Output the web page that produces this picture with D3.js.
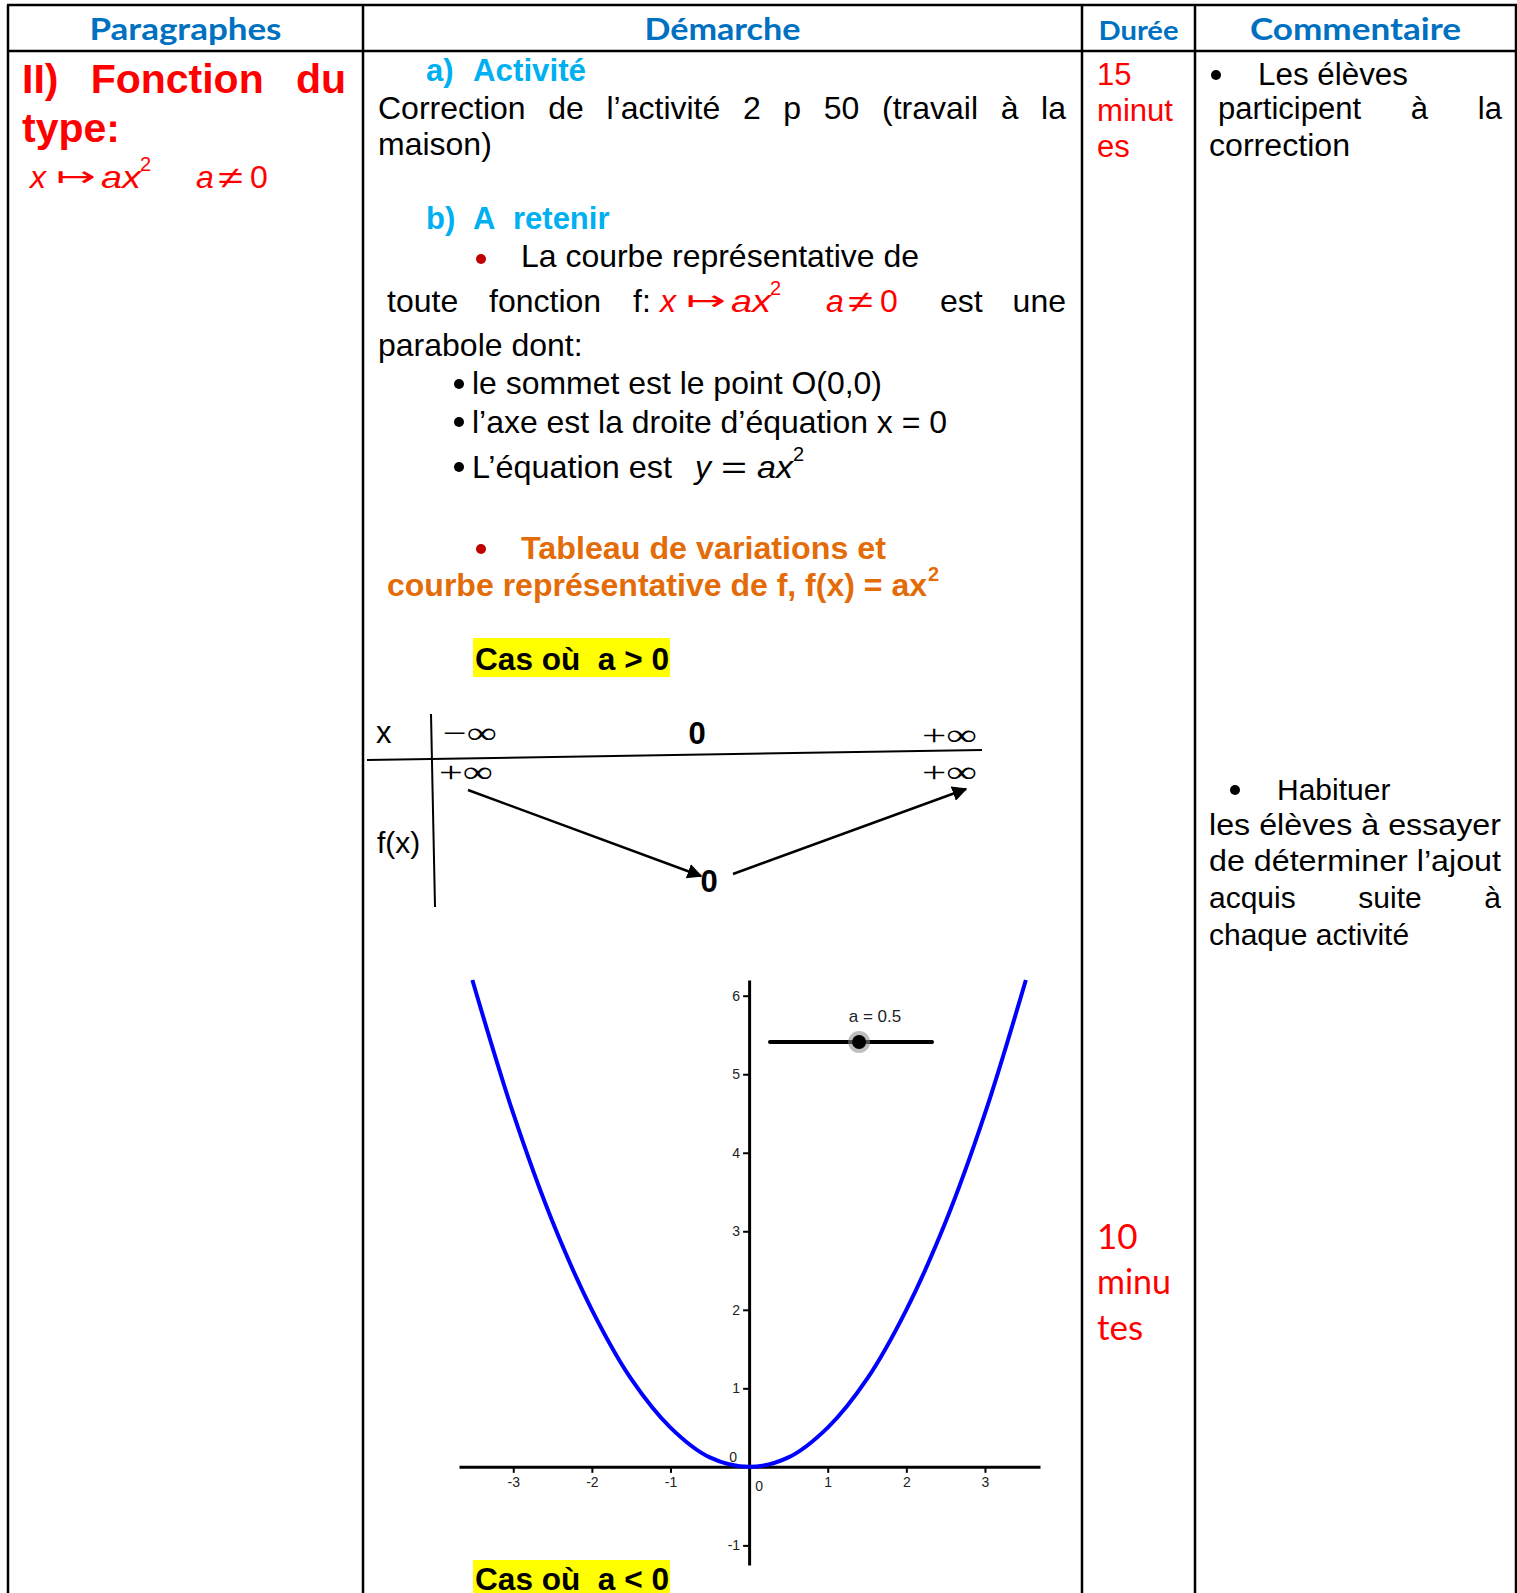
<!DOCTYPE html>
<html>
<head>
<meta charset="utf-8">
<script src="https://cdn.jsdelivr.net/npm/d3@7"></script>
<style>
  body { margin: 0; background: #fff; }
  svg { display: block; }
  text { white-space: pre; }
</style>
</head>
<body>
<div id="page"></div>
<script>
// Table columns
const headers = ["Paragraphes", "Démarche", "Durée", "Commentaire"];
const colEdges = [8, 363, 1082, 1195, 1516];

// Variation table (a > 0)
const varX = ["−∞", "0", "+∞"];
const varF = ["+∞", "0", "+∞"];

// Curve y = ax² (a = 0.5)
const curveX = [-3.52, -3, -2.5, -2, -1.5, -1, -0.5, 0, 0.5, 1, 1.5, 2, 2.5, 3, 3.52];
const curveY = [6.2, 4.5, 3.12, 2, 1.12, 0.5, 0.12, 0, 0.12, 0.5, 1.12, 2, 3.12, 4.5, 6.2];
const xTicks = [-3, -2, -1, 1, 2, 3];
const yTicks = [-1, 1, 2, 3, 4, 5, 6];
const sliderRange = [-5, 5];
const sliderValue = 0.5;

const W = 1517, H = 1593;
const svg = d3.select("#page").append("svg")
  .attr("width", W)
  .attr("height", H);

const SANS = "Liberation Sans, Arial, sans-serif";
const CAL = "Lato, Open Sans, sans-serif";

function txt(g, x, y, s, o = {}) {
  const t = g.append("text")
    .attr("x", x).attr("y", y)
    .attr("font-family", o.family || SANS)
    .attr("font-size", o.size || 31)
    .attr("font-weight", o.weight || "normal")
    .attr("font-style", o.style || "normal")
    .attr("fill", o.fill || "#000")
    .attr("text-anchor", o.anchor || "start")
    .text(s);
  if (o.w) t.attr("textLength", o.w).attr("lengthAdjust", "spacingAndGlyphs");
  return t;
}

// spread words across a line, like justified Word text
function justify(g, words, x0, x1, y, o) {
  const nodes = words.map(w => txt(g, 0, y, w, o));
  const ws = nodes.map(n => n.node().getComputedTextLength());
  const gap = (x1 - x0 - d3.sum(ws)) / (words.length - 1);
  let x = x0;
  nodes.forEach((n, i) => { n.attr("x", x); x += ws[i] + gap; });
}

function dot(g, x, y, r, fill) {
  g.append("circle").attr("cx", x).attr("cy", y).attr("r", r).attr("fill", fill);
}

// x ↦ ax²   a ≠ 0, in red
function mapsTo(g, x, y) {
  const o = { size: 32, style: "italic", fill: "#FF0000" };
  txt(g, x, y, "x", o);
  txt(g, x + 26, y - 2, "↦", { size: 28, fill: "#FF0000", family: "DejaVu Sans", w: 40 });
  txt(g, x + 71, y, "ax", { ...o, w: 40 });
  txt(g, x + 110, y - 17, "2", { size: 20, fill: "#FF0000" });
  txt(g, x + 166, y, "a", o);
  txt(g, x + 188, y, "≠", { size: 30, fill: "#FF0000", w: 25 });
  txt(g, x + 220, y, "0", { size: 32, fill: "#FF0000" });
}

// ---- table grid ----
const grid = svg.append("g").attr("stroke", "#000").attr("stroke-width", 2.5);
colEdges.forEach(x => grid.append("line").attr("x1", x).attr("x2", x).attr("y1", 5).attr("y2", H));
grid.append("line").attr("x1", 7).attr("x2", 1517).attr("y1", 5).attr("y2", 5);
grid.append("line").attr("x1", 7).attr("x2", 1517).attr("y1", 51).attr("y2", 51);

// ---- headers ----
const hdr = svg.append("g");
const hdrW = [192, 156, 80, 211];
const hdrSize = [31, 31, 26, 31];
headers.forEach((h, i) => {
  txt(hdr, (colEdges[i] + colEdges[i + 1]) / 2, 40, h, {
    family: CAL, weight: "bold", fill: "#0070C0", anchor: "middle", size: hdrSize[i], w: hdrW[i]
  });
});

// ---- column 1 ----
const c1 = svg.append("g");
justify(c1, ["II)", "Fonction", "du"], 22, 346, 93, { size: 41, weight: "bold", fill: "#FF0000" });
txt(c1, 22, 142, "type:", { size: 41, weight: "bold", fill: "#FF0000" });
mapsTo(c1, 30, 188);

// ---- column 2 : text ----
const c2 = svg.append("g");
const cyan = "#00B0F0";
txt(c2, 426, 81, "a)", { size: 31, weight: "bold", fill: cyan });
txt(c2, 473, 81, "Activité", { size: 31, weight: "bold", fill: cyan, w: 113 });
justify(c2, ["Correction", "de", "l’activité", "2", "p", "50", "(travail", "à", "la"], 378, 1066, 119, { size: 32 });
txt(c2, 378, 155, "maison)", { size: 32 });

txt(c2, 426, 229, "b)", { size: 31, weight: "bold", fill: cyan });
txt(c2, 473, 229, "A", { size: 31, weight: "bold", fill: cyan });
txt(c2, 513, 229, "retenir", { size: 31, weight: "bold", fill: cyan });
dot(c2, 481, 259, 5, "#C00000");
txt(c2, 521, 267, "La courbe représentative de", { size: 32, w: 398 });

txt(c2, 387, 312, "toute", { size: 32 });
txt(c2, 489, 312, "fonction", { size: 32 });
txt(c2, 633, 312, "f:", { size: 32 });
mapsTo(c2, 660, 312);
txt(c2, 940, 312, "est", { size: 32 });
txt(c2, 1066, 312, "une", { size: 32, anchor: "end" });
txt(c2, 378, 356, "parabole dont:", { size: 32 });

dot(c2, 459, 384, 5, "#000");
txt(c2, 472, 394, "le sommet est le point O(0,0)", { size: 32, w: 410 });
dot(c2, 459, 422, 5, "#000");
txt(c2, 472, 433, "l’axe est la droite d’équation x = 0", { size: 32, w: 475 });
dot(c2, 459, 467, 5, "#000");
txt(c2, 472, 478, "L’équation est", { size: 32, w: 200 });
txt(c2, 695, 478, "y", { size: 32, style: "italic" });
txt(c2, 721, 478, "=", { size: 32, w: 26 });
txt(c2, 757, 478, "ax", { size: 32, style: "italic", w: 36 });
txt(c2, 793, 461, "2", { size: 20 });

const orange = "#E36C09";
dot(c2, 481, 549, 5, "#C00000");
txt(c2, 521, 559, "Tableau de variations et", { size: 31, weight: "bold", fill: orange, w: 365 });
txt(c2, 387, 596, "courbe représentative de f, f(x) = ax", { size: 31, weight: "bold", fill: orange, w: 540 });
txt(c2, 928, 581, "2", { size: 20, weight: "bold", fill: orange });

c2.append("rect").attr("x", 473).attr("y", 638).attr("width", 197).attr("height", 39).attr("fill", "#FFFF00");
txt(c2, 475, 670, "Cas où  a > 0", { size: 31, weight: "bold", w: 194 });
c2.append("rect").attr("x", 473).attr("y", 1560).attr("width", 197).attr("height", 40).attr("fill", "#FFFF00");
txt(c2, 475, 1590, "Cas où  a < 0", { size: 31, weight: "bold", w: 194 });

// ---- variation table ----
const vt = svg.append("g");
svg.append("defs").append("marker")
  .attr("id", "ah").attr("viewBox", "0 0 10 10").attr("refX", 9).attr("refY", 5)
  .attr("markerWidth", 6).attr("markerHeight", 6).attr("orient", "auto")
  .append("path").attr("d", "M0,0 L10,5 L0,10 z").attr("fill", "#000");

vt.append("line").attr("x1", 431).attr("y1", 714).attr("x2", 435).attr("y2", 907)
  .attr("stroke", "#000").attr("stroke-width", 2);
vt.append("line").attr("x1", 367).attr("y1", 760).attr("x2", 982).attr("y2", 750)
  .attr("stroke", "#000").attr("stroke-width", 2);
txt(vt, 376, 743, "x", { size: 31 });
txt(vt, 377, 853, "f(x)", { size: 30 });

const SER = "Liberation Serif, DejaVu Serif, serif";
const vxPos = [443, 697, 922];
txt(vt, vxPos[0], 743, varX[0], { size: 30, family: SER, w: 54 });
txt(vt, vxPos[1], 744, varX[1], { size: 31, weight: "bold", anchor: "middle" });
txt(vt, vxPos[2], 745, varX[2], { size: 30, family: SER, w: 55 });
txt(vt, 439, 782, varF[0], { size: 30, family: SER, w: 54 });
txt(vt, 709, 892, varF[1], { size: 31, weight: "bold", anchor: "middle" });
txt(vt, 922, 782, varF[2], { size: 30, family: SER, w: 55 });

vt.append("line").attr("x1", 468).attr("y1", 790).attr("x2", 701).attr("y2", 876)
  .attr("stroke", "#000").attr("stroke-width", 2.5).attr("marker-end", "url(#ah)");
vt.append("line").attr("x1", 733).attr("y1", 874).attr("x2", 966).attr("y2", 789)
  .attr("stroke", "#000").attr("stroke-width", 2.5).attr("marker-end", "url(#ah)");

// ---- graph of y = 0.5x² ----
const gx = d3.scaleLinear().domain([-3.69, 3.70]).range([459, 1040]);
const gy = d3.scaleLinear().domain([-1.25, 6.2]).range([1565, 980]);
const plot = svg.append("g");

const xAxis = plot.append("g")
  .attr("transform", `translate(0,${gy(0)})`)
  .call(d3.axisBottom(gx).tickValues(xTicks).tickSize(6).tickSizeOuter(0).tickPadding(4).tickFormat(d => String(d)));
const yAxis = plot.append("g")
  .attr("transform", `translate(${gx(0)},0)`)
  .call(d3.axisLeft(gy).tickValues(yTicks).tickSize(6).tickSizeOuter(0).tickPadding(3).tickFormat(d => String(d)));
[xAxis, yAxis].forEach(a => {
  a.select(".domain").attr("stroke", "#000").attr("stroke-width", 3);
  a.selectAll(".tick line").attr("stroke", "#000").attr("stroke-width", 2);
  a.selectAll(".tick text").attr("font-family", SANS).attr("font-size", 14).attr("fill", "#222");
});
txt(plot, gx(0) + 10, gy(0) + 24, "0", { size: 14, anchor: "middle", fill: "#222" });
txt(plot, gx(0) - 16, gy(0) - 5, "0", { size: 14, anchor: "middle", fill: "#222" });

const pts = curveX.map((x, i) => [x, curveY[i]]);
plot.append("path")
  .datum(pts)
  .attr("fill", "none")
  .attr("stroke", "#0000FF")
  .attr("stroke-width", 4)
  .attr("d", d3.line().x(d => gx(d[0])).y(d => gy(d[1])).curve(d3.curveCatmullRom));

// slider a
const sx = d3.scaleLinear().domain(sliderRange).range([770, 932]);
plot.append("line").attr("x1", sx.range()[0]).attr("x2", sx.range()[1]).attr("y1", 1042).attr("y2", 1042)
  .attr("stroke", "#000").attr("stroke-width", 4).attr("stroke-linecap", "round");
plot.append("circle").attr("cx", sx(sliderValue)).attr("cy", 1042).attr("r", 11).attr("fill", "#888").attr("opacity", 0.55);
plot.append("circle").attr("cx", sx(sliderValue)).attr("cy", 1042).attr("r", 7).attr("fill", "#000");
txt(plot, 875, 1022, `a = ${sliderValue}`, { size: 17, anchor: "middle", fill: "#222" });

// ---- column 3 : durations ----
const c3 = svg.append("g");
txt(c3, 1097, 85, "15", { size: 31, fill: "#FF0000" });
txt(c3, 1097, 121, "minut", { size: 31, fill: "#FF0000", w: 76 });
txt(c3, 1097, 157, "es", { size: 31, fill: "#FF0000" });
txt(c3, 1097, 1249, "10", { size: 35, fill: "#FF0000", family: CAL });
txt(c3, 1097, 1294, "minu", { size: 35, fill: "#FF0000", family: CAL, w: 74 });
txt(c3, 1097, 1340, "tes", { size: 35, fill: "#FF0000", family: CAL });

// ---- column 4 : comments ----
const c4 = svg.append("g");
dot(c4, 1216, 75, 5, "#000");
txt(c4, 1258, 85, "Les élèves", { size: 31, w: 150 });
justify(c4, ["participent", "à", "la"], 1218, 1502, 119, { size: 31 });
txt(c4, 1209, 156, "correction", { size: 31, w: 141 });

dot(c4, 1235, 790, 5, "#000");
txt(c4, 1277, 800, "Habituer", { size: 30 });
txt(c4, 1209, 835, "les élèves à essayer", { size: 30, w: 292 });
txt(c4, 1209, 871, "de déterminer l’ajout", { size: 30, w: 292 });
justify(c4, ["acquis", "suite", "à"], 1209, 1501, 908, { size: 30 });
txt(c4, 1209, 945, "chaque activité", { size: 30 });
</script>
</body>
</html>
